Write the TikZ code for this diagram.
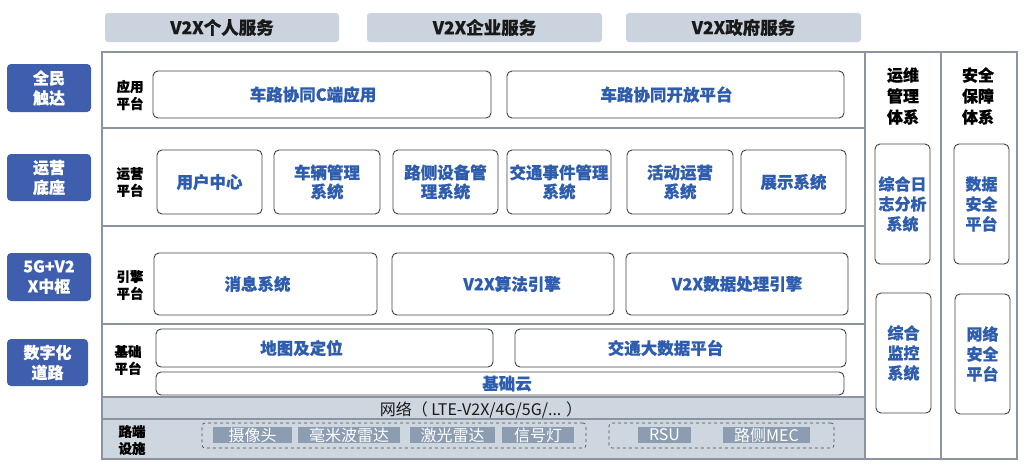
\documentclass[tikz,border=0pt]{standalone}
\usepackage{fontspec}
\setmainfont{Noto Sans CJK SC}[BoldFeatures={FakeBold=0.5}]
\definecolor{tabgray}{HTML}{CBD3DE}
\definecolor{navy}{HTML}{3F5FAE}
\definecolor{txtblue}{HTML}{2F5DAE}
\definecolor{framegray}{HTML}{8A94A3}
\definecolor{itemgray}{HTML}{8C9CB1}
\definecolor{bandgray}{HTML}{CED6E0}
\newcommand\mybox[7]{\node[#2, minimum width={#5pt-#3pt}, minimum height={#6pt-#4pt}] (#1) at ({(#3+#5)/2},{(#4+#6)/2}) {#7};}
\begin{document}
\begin{tikzpicture}[x=1pt,y=-1pt,
  tab/.style={fill=tabgray, rounded corners=3pt, inner sep=0pt, text=black!90, font=\bfseries\fontsize{17.5}{19}\selectfont},
  side/.style={fill=navy, rounded corners=4pt, inner sep=0pt, text=white, align=center, font=\bfseries\fontsize{16}{20}\selectfont},
  rowlab/.style={inner sep=0pt, align=center, text=black, font=\bfseries\fontsize{13.5}{17}\selectfont},
  collab/.style={inner sep=0pt, align=center, text=black, font=\bfseries\fontsize{16}{21}\selectfont},
  bbox/.style={draw=black!75, line width=0.9pt, rounded corners=5pt, inner sep=0pt, text=txtblue, align=center, font=\bfseries\fontsize{16.5}{19}\selectfont},
  vbox/.style={draw=black!75, line width=0.9pt, rounded corners=5pt, inner sep=0pt, text=txtblue, align=center, font=\bfseries\fontsize{16}{20}\selectfont},
  item/.style={fill=itemgray, inner sep=0pt, text=white, font=\fontsize{16}{16}\selectfont},
  dbox/.style={draw=black!70, dashed, line width=0.7pt, rounded corners=3pt, inner sep=0pt},
  frame/.style={draw=framegray, line width=1.2pt},
  band/.style={fill=bandgray, draw=framegray, line width=1.2pt, inner sep=0pt}
]
\useasboundingbox (0,0) rectangle (1024,469);
% top tabs
\mybox{t1}{tab}{105}{13}{339}{42}{V2X个人服务}
\mybox{t2}{tab}{367}{13}{602}{42}{V2X企业服务}
\mybox{t3}{tab}{626}{13}{861}{42}{V2X政府服务}
% side labels
\mybox{s1}{side}{7}{64}{91}{112}{全民\\触达}
\mybox{s2}{side}{7}{154}{91}{201}{运营\\底座}
\mybox{s3}{side}{7}{253}{91}{301}{5G+V2\\X中枢}
\mybox{s4}{side}{7}{339}{88}{386}{数字化\\道路}
% bands
\mybox{net}{band}{102}{397}{865}{419}{}
\mybox{road}{band}{102}{419}{865}{459}{}
\node[inner sep=0pt, font=\fontsize{16}{17}\selectfont, text=black!90] (nettxt) at (481,410) {网络（ LTE-V2X/4G/5G/... ）};
% frame
\draw[frame] (102,52) rectangle (1017,459);
\draw[frame] (865,52) -- (865,459);
\draw[frame] (941,52) -- (941,459);
\draw[frame] (102,128) -- (865,128);
\draw[frame] (102,226) -- (865,226);
\draw[frame] (102,324) -- (865,324);
% row labels
\node[rowlab] (l1) at (130,95) {应用\\平台};
\node[rowlab] (l2) at (130,182) {运营\\平台};
\node[rowlab] (l3) at (130,285) {引擎\\平台};
\node[rowlab] (l4) at (128,360) {基础\\平台};
\node[rowlab] (l5) at (132,440) {路端\\设施};
% row 1
\mybox{a1}{bbox}{153}{71}{491}{118}{车路协同C端应用\hspace{18pt}}
\mybox{a2}{bbox}{507}{71}{844}{118}{车路协同开放平台\hspace{18pt}}
% row 2
\mybox{b1}{bbox}{157}{150}{262}{214}{用户中心}
\mybox{b2}{bbox}{274}{150}{380}{214}{车辆管理\\系统}
\mybox{b3}{bbox}{393}{150}{498}{214}{路侧设备管\\理系统}
\mybox{b4}{bbox}{507}{150}{611}{214}{交通事件管理\\系统}
\mybox{b5}{bbox}{627}{150}{733}{214}{活动运营\\系统}
\mybox{b6}{bbox}{741}{150}{846}{214}{展示系统}
% row 3
\mybox{c1}{bbox}{154}{253}{377}{315}{消息系统\hspace{16pt}}
\mybox{c2}{bbox}{392}{253}{614}{315}{\hspace{18pt}V2X算法引擎}
\mybox{c3}{bbox}{626}{253}{848}{315}{V2X数据处理引擎}
% row 4
\mybox{d1}{bbox}{156}{329}{493}{367}{地图及定位\hspace{46pt}}
\mybox{d2}{bbox}{515}{329}{846}{367}{交通大数据平台\hspace{30pt}}
\mybox{d3}{bbox}{156}{372}{844}{395}{\hspace{14pt}基础云}
% roadside
\mybox{g1}{dbox}{202}{423}{586}{448}{}
\mybox{g2}{dbox}{609}{423}{834}{448}{}
\mybox{e1}{item}{213}{427}{292}{443}{摄像头}
\mybox{e2}{item}{298}{427}{400}{443}{毫米波雷达}
\mybox{e3}{item}{410}{427}{495}{443}{激光雷达}
\mybox{e4}{item}{502}{427}{574}{443}{信号灯}
\mybox{e5}{item}{638}{427}{691}{443}{RSU}
\mybox{e6}{item}{723}{427}{810}{443}{路侧MEC}
% right columns
\node[collab] (r1) at (903,96) {运维\\管理\\体系};
\node[collab] (r2) at (978,96) {安全\\保障\\体系};
\mybox{f1}{vbox}{875}{144}{930}{264}{综合日\\志分析\\系统}
\mybox{f2}{vbox}{876}{293}{931}{413}{综合\\监控\\系统}
\mybox{h1}{vbox}{954}{144}{1009}{264}{数据\\安全\\平台}
\mybox{h2}{vbox}{955}{294}{1010}{414}{网络\\安全\\平台}
\end{tikzpicture}
\end{document}
